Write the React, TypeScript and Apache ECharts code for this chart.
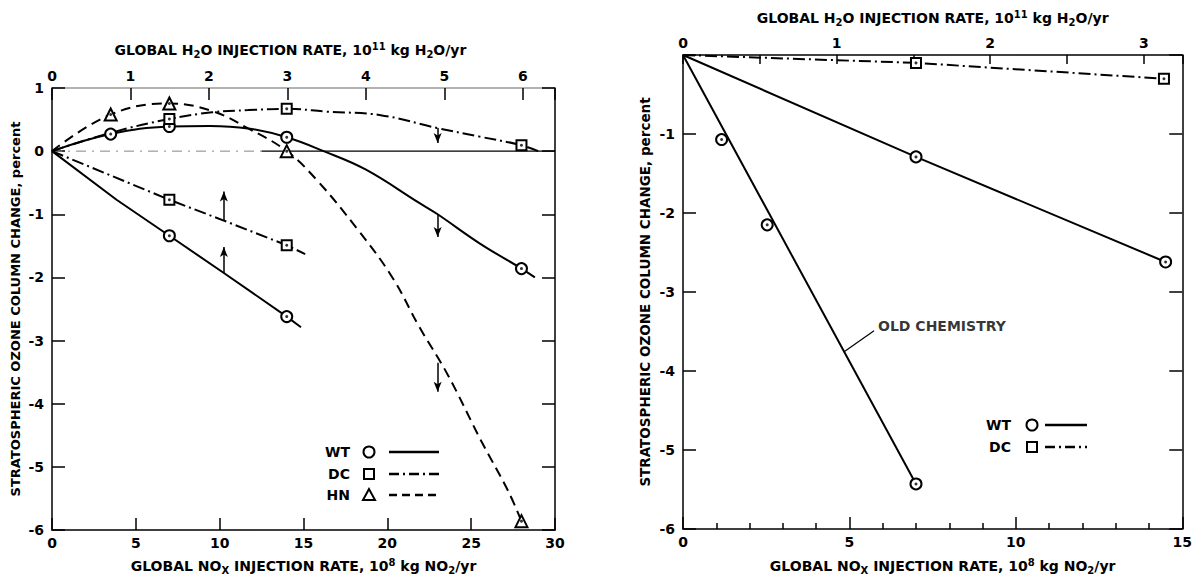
import React, { useEffect, useRef } from "react";
import * as echarts from "echarts";

// ---------- LEFT PANEL (x: NOx injection, 1e8 kg NO2/yr; y: ozone column change, %) ----------
const leftNoxMax = 30;
const leftH2oMax = 6.41;
const leftYMin = -6;
const leftYMax = 1;

const wtUpperCurve = [
  [0, 0], [3.5, 0.27], [7, 0.39], [9.4, 0.4], [11.7, 0.36], [14, 0.22], [16.2, 0],
  [18.7, -0.29], [21.9, -0.82], [23, -1.0], [25.5, -1.46], [28, -1.86], [28.8, -2.0],
];
const dcUpperCurve = [
  [0, 0], [3.5, 0.29], [7, 0.51], [9.55, 0.615], [11.7, 0.65], [14, 0.67], [16.4, 0.625],
  [19.6, 0.57], [23, 0.365], [25.5, 0.23], [28, 0.094], [29, 0],
];
const hnCurve = [
  [0, 0], [3.5, 0.58], [7, 0.755], [9.5, 0.64], [11.7, 0.36], [14, 0], [15.8, -0.46],
  [18.2, -1.23], [20.3, -2.0], [21.9, -2.78], [23.6, -3.54], [25.6, -4.59], [27.2, -5.38], [28, -5.86],
];
const wtLowerLine = [[0, 0], [3.85, -0.77], [7, -1.34], [10.25, -1.93], [14, -2.62], [14.85, -2.79]];
const dcLowerLine = [[0, 0], [7, -0.77], [10.25, -1.1], [14, -1.49], [15.1, -1.63]];
const zeroDashed = [[0, 0], [12.5, 0]];
const zeroSolid = [[12.5, 0], [30, 0]];

const leftWtPoints = [[3.5, 0.27], [7, 0.39], [14, 0.22], [28, -1.86], [7, -1.34], [14, -2.62]];
const leftDcPoints = [[7, 0.51], [14, 0.67], [28, 0.094], [7, -0.77], [14, -1.49]];
const leftHnPoints = [[3.5, 0.58], [7, 0.755], [14, 0], [28, -5.86]];

// arrows: [x, from, to]
const leftArrows = [
  [10.25, -1.93, -1.52],
  [10.25, -1.1, -0.64],
  [23, -1.0, -1.36],
  [23, 0.365, 0.13],
  [23, -3.35, -3.81],
];

// ---------- RIGHT PANEL ----------
const rightNoxMax = 15;
const rightH2oMax = 3.25;
const rightYMin = -6;
const rightYMax = 0;

const wtNewLine = [[0, 0], [7, -1.29], [14.5, -2.62]];
const oldChemLine = [[0, 0], [7, -5.43]];
const dcRightLine = [[0, 0], [7, -0.1], [14.45, -0.3]];
const rightWtPoints = [[1.16, -1.07], [2.53, -2.15], [7, -5.43], [7, -1.29], [14.5, -2.62]];
const rightDcPoints = [[7, -0.1], [14.45, -0.3]];
const oldChemLeader = [[4.83, -3.76], [5.74, -3.49]];
const oldChemLabelPos = [[5.86, -3.43]];

const FONT = "DejaVu Sans";
const DASHDOT = [12, 4, 2, 4];
const DASHED = [10, 6];

const richName = {
  sub: { fontSize: 10, lineHeight: 10, verticalAlign: "bottom", fontWeight: "bold", fontFamily: FONT, color: "#000" },
  sup: { fontSize: 10, lineHeight: 10, verticalAlign: "top", fontWeight: "bold", fontFamily: FONT, color: "#000" },
};
const nameStyle = (extra: any = {}) => ({
  fontFamily: FONT, fontWeight: "bold", fontSize: 14, lineHeight: 18, color: "#000", rich: richName, ...extra,
});
const H2O_NAME = "GLOBAL H{sub|2}O INJECTION RATE, 10{sup|11} kg H{sub|2}O/yr";
const NOX_NAME = "GLOBAL NO{sub|X} INJECTION RATE, 10{sup|8} kg NO{sub|2}/yr";
const Y_NAME = "STRATOSPHERIC OZONE COLUMN CHANGE, percent";

const intLabel = (v: number) => (Math.abs(v - Math.round(v)) < 1e-9 ? String(Math.round(v)) : "");

function lineS(data: number[][], idx: number, dash: any, smooth: any, width = 2) {
  return {
    type: "line", xAxisIndex: idx, yAxisIndex: idx, data, symbol: "none", showSymbol: false,
    smooth, silent: true, z: 2, lineStyle: { color: "#000", width, type: dash },
  };
}
function markerS(data: number[][], idx: number, symbol: string, size: number) {
  return {
    type: "scatter", xAxisIndex: idx, yAxisIndex: idx, data, symbol, symbolSize: size, silent: true, z: 4,
    itemStyle: { color: "#fff", borderColor: "#000", borderWidth: 2, opacity: 1 },
  };
}
function dotS(data: number[][], idx: number) {
  return {
    type: "scatter", xAxisIndex: idx, yAxisIndex: idx, data, symbol: "circle", symbolSize: 3, silent: true, z: 5,
    itemStyle: { color: "#000" },
  };
}

const axisLineStyle = { onZero: false, lineStyle: { color: "#000", width: 1.5 } };
const labelStyle = { fontFamily: FONT, fontWeight: "bold", fontSize: 14, color: "#000" };
const tickStyle = (length: number) => ({ inside: true, length, lineStyle: { color: "#000", width: 1.5 } });

function buildOption() {
  const arrowData = leftArrows.map(([x, a, b]) => [{ coord: [x, a] }, { coord: [x, b] }]);
  return {
    animation: false,
    backgroundColor: "#fff",
    textStyle: { fontFamily: FONT },
    grid: [
      { left: 52, top: 88, width: 503, height: 446 },
      { left: 683, top: 55, width: 502, height: 478 },
    ],
    xAxis: [
      {
        gridIndex: 0, type: "value", position: "bottom", min: 0, max: leftNoxMax, interval: 5,
        axisLine: axisLineStyle, axisTick: tickStyle(12),
        axisLabel: { ...labelStyle, margin: 6 }, splitLine: { show: false },
        name: NOX_NAME, nameLocation: "middle", nameGap: 27, nameTextStyle: nameStyle(),
      },
      {
        gridIndex: 0, type: "value", position: "top", min: 0, max: leftH2oMax, interval: 1,
        axisLine: { onZero: false, lineStyle: { color: "#999", width: 1.5 } },
        axisTick: tickStyle(12),
        axisLabel: { ...labelStyle, margin: 5, formatter: intLabel }, splitLine: { show: false },
        name: H2O_NAME, nameLocation: "middle", nameGap: 29, nameTextStyle: nameStyle({ padding: [0, 26, 0, 0] }),
      },
      {
        gridIndex: 1, type: "value", position: "bottom", min: 0, max: rightNoxMax, interval: 5,
        axisLine: axisLineStyle, axisTick: tickStyle(12),
        minorTick: { show: true, splitNumber: 5, length: 6, lineStyle: { color: "#000", width: 1.5 } },
        axisLabel: { ...labelStyle, margin: 6 }, splitLine: { show: false }, minorSplitLine: { show: false },
        name: NOX_NAME, nameLocation: "middle", nameGap: 28, nameTextStyle: nameStyle({ padding: [0, 0, 0, 20] }),
      },
      {
        gridIndex: 1, type: "value", position: "top", min: 0, max: rightH2oMax, interval: 0.5,
        axisLine: axisLineStyle, axisTick: tickStyle(9),
        axisLabel: { ...labelStyle, margin: 5, formatter: intLabel }, splitLine: { show: false },
        name: H2O_NAME, nameLocation: "middle", nameGap: 28, nameTextStyle: nameStyle(),
      },
    ],
    yAxis: [
      {
        gridIndex: 0, type: "value", position: "left", min: leftYMin, max: leftYMax, interval: 1,
        axisLine: axisLineStyle, axisTick: tickStyle(13),
        axisLabel: { ...labelStyle, margin: 8 }, splitLine: { show: false },
        name: Y_NAME, nameLocation: "middle", nameGap: 26, nameTextStyle: nameStyle({ fontSize: 13 }),
      },
      {
        gridIndex: 0, type: "value", position: "right", min: leftYMin, max: leftYMax, interval: 1,
        axisLine: axisLineStyle, axisTick: tickStyle(13),
        axisLabel: { show: false }, splitLine: { show: false },
      },
      {
        gridIndex: 1, type: "value", position: "left", min: rightYMin, max: rightYMax, interval: 1,
        axisLine: axisLineStyle, axisTick: tickStyle(13),
        axisLabel: { ...labelStyle, margin: 8, formatter: (v: number) => (v === 0 ? "" : String(v)) },
        splitLine: { show: false },
        name: Y_NAME, nameLocation: "middle", nameGap: 29, nameTextStyle: nameStyle({ fontSize: 13.5 }),
      },
      {
        gridIndex: 1, type: "value", position: "right", min: rightYMin, max: rightYMax, interval: 1,
        axisLine: axisLineStyle, axisTick: tickStyle(13),
        axisLabel: { show: false }, splitLine: { show: false },
      },
    ],
    series: [
      // left panel
      { ...lineS(zeroDashed, 0, [10, 6, 2, 6], false, 1), lineStyle: { color: "#888", width: 1, type: [10, 6, 2, 6] } },
      lineS(zeroSolid, 0, "solid", false, 1.2),
      lineS(wtUpperCurve, 0, "solid", 0.4),
      lineS(dcUpperCurve, 0, DASHDOT, 0.4),
      lineS(hnCurve, 0, DASHED, 0.4),
      {
        ...lineS(wtLowerLine, 0, "solid", false),
        markLine: {
          silent: true, symbol: ["none", "arrow"], symbolSize: [6, 10], animation: false,
          lineStyle: { color: "#000", width: 1.5, type: "solid" }, label: { show: false },
          emphasis: { disabled: true }, data: arrowData,
        },
      },
      lineS(dcLowerLine, 0, DASHDOT, false),
      markerS(leftWtPoints, 0, "circle", 11),
      markerS(leftDcPoints, 0, "rect", 10),
      markerS(leftHnPoints, 0, "triangle", 12),
      dotS(leftWtPoints, 0),
      dotS(leftDcPoints, 0),
      dotS(leftHnPoints, 0),
      // right panel
      lineS(wtNewLine, 2, "solid", false),
      lineS(oldChemLine, 2, "solid", false),
      lineS(dcRightLine, 2, DASHDOT, false),
      lineS(oldChemLeader, 2, "solid", false, 1.2),
      markerS(rightWtPoints, 2, "circle", 11),
      markerS(rightDcPoints, 2, "rect", 10),
      dotS(rightWtPoints, 2),
      dotS(rightDcPoints, 2),
      {
        type: "scatter", xAxisIndex: 2, yAxisIndex: 2, data: oldChemLabelPos, symbolSize: 0, silent: true,
        label: {
          show: true, position: "right", distance: 0, formatter: "OLD CHEMISTRY",
          fontFamily: FONT, fontWeight: "bold", fontSize: 14, color: "#000",
        },
      },
    ],
    graphic: [
      // left legend
      ...["WT", "DC", "HN"].map((t, i) => ({
        type: "text", x: 350, y: 452 + i * 21.5,
        style: { text: t, fill: "#000", font: `bold 14px "${FONT}"`, align: "right", textAlign: "right", verticalAlign: "middle", textVerticalAlign: "middle" },
      })),
      { type: "circle", shape: { cx: 369, cy: 452, r: 5.5 }, style: { fill: "#fff", stroke: "#000", lineWidth: 2 } },
      { type: "rect", shape: { x: 364, y: 469, width: 10, height: 10 }, style: { fill: "#fff", stroke: "#000", lineWidth: 2 } },
      { type: "polygon", shape: { points: [[369, 489], [363, 500], [375, 500]] }, style: { fill: "#fff", stroke: "#000", lineWidth: 2 } },
      { type: "line", shape: { x1: 389, y1: 452, x2: 439, y2: 452 }, style: { stroke: "#000", lineWidth: 2.5 } },
      { type: "line", shape: { x1: 389, y1: 474, x2: 439, y2: 474 }, style: { stroke: "#000", lineWidth: 2.5, lineDash: [10, 4, 2, 4] } },
      { type: "line", shape: { x1: 389, y1: 495, x2: 439, y2: 495 }, style: { stroke: "#000", lineWidth: 2.5, lineDash: [8, 5] } },
      // right legend
      ...["WT", "DC"].map((t, i) => ({
        type: "text", x: 1011, y: 425 + i * 22,
        style: { text: t, fill: "#000", font: `bold 14px "${FONT}"`, align: "right", textAlign: "right", verticalAlign: "middle", textVerticalAlign: "middle" },
      })),
      { type: "circle", shape: { cx: 1032, cy: 425, r: 5.5 }, style: { fill: "#fff", stroke: "#000", lineWidth: 2 } },
      { type: "rect", shape: { x: 1027, y: 442, width: 10, height: 10 }, style: { fill: "#fff", stroke: "#000", lineWidth: 2 } },
      { type: "line", shape: { x1: 1045, y1: 425, x2: 1087, y2: 425 }, style: { stroke: "#000", lineWidth: 2.5 } },
      { type: "line", shape: { x1: 1045, y1: 447, x2: 1087, y2: 447 }, style: { stroke: "#000", lineWidth: 2.5, lineDash: [10, 4, 2, 4] } },
    ],
  };
}

export default function App() {
  const ref = useRef<HTMLDivElement>(null);
  useEffect(() => {
    if (!ref.current) return;
    const chart = echarts.init(ref.current, null, { renderer: "svg" });
    chart.setOption(buildOption() as any);
    return () => chart.dispose();
  }, []);
  return (
    <div
      ref={ref}
      style={{ position: "absolute", left: 0, top: 0, width: 1195, height: 580, background: "#fff" }}
    />
  );
}
